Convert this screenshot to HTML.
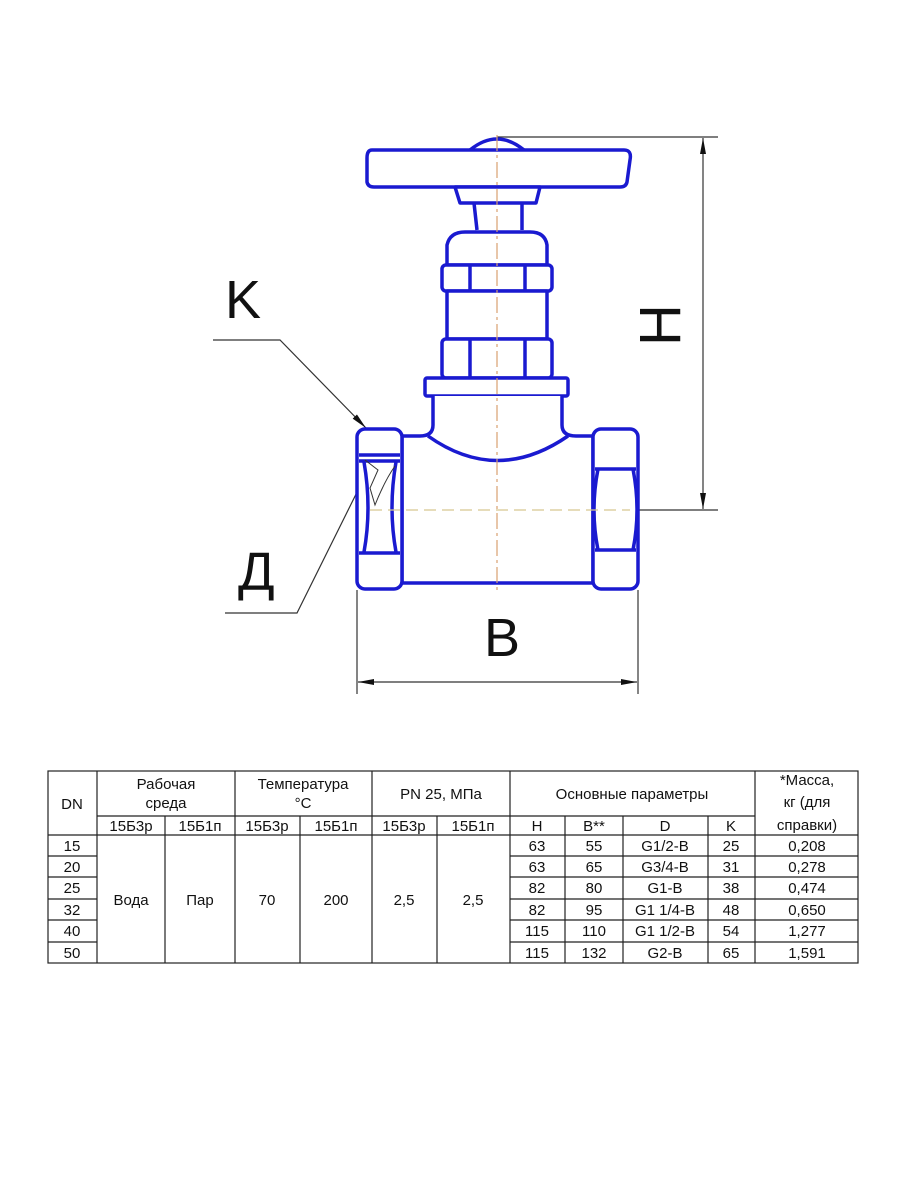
<!DOCTYPE html>
<html><head><meta charset="utf-8"><style>
body{margin:0;background:#fff;width:900px;height:1200px;overflow:hidden}
svg{display:block}
text{font-family:"Liberation Sans","DejaVu Sans",sans-serif}
</style></head><body>
<svg width="900" height="1200" viewBox="0 0 900 1200" xmlns="http://www.w3.org/2000/svg">
<defs>
<marker id="ar" markerWidth="16" markerHeight="8" refX="16" refY="4" orient="auto-start-reverse" markerUnits="userSpaceOnUse"><path d="M0,1 L16,4 L0,7 z" fill="#111"/></marker>
</defs>
<!-- dimension H -->
<g stroke="#333" stroke-width="1.2" fill="none">
<line x1="497" y1="137" x2="718" y2="137"/>
<line x1="638" y1="510" x2="718" y2="510"/>
<line x1="703" y1="138" x2="703" y2="509" marker-start="url(#ar)" marker-end="url(#ar)"/>
<line x1="357" y1="590" x2="357" y2="694"/>
<line x1="638" y1="590" x2="638" y2="694"/>
<line x1="358" y1="682" x2="637" y2="682" marker-start="url(#ar)" marker-end="url(#ar)"/>
<polyline points="213,340 280,340 366,428" marker-end="url(#ar)"/>
<polyline points="225,613 297,613 372,462" marker-end="url(#ar)"/>
</g>
<g fill="#111" font-size="54">
<text x="225" y="318">K</text>
<text x="238" y="590">Д</text>
<text x="484" y="656">B</text>
<text transform="translate(638,325) rotate(-90)" text-anchor="middle" x="0" y="42" font-size="58">H</text>
</g>
<!-- valve -->
<g stroke="#1a1ad0" stroke-width="3.5" fill="#fff" stroke-linejoin="round">
<path d="M470,150 Q497,128 524,150"/>
<path d="M372,150 L624,150 Q632,150 630,160 L627,182 Q626,187 620,187 L374,187 Q368,187 367,182 L367,158 Q367,150 372,150 Z"/>
<path d="M455,187 L540,187 L536,203 L460,203 Z"/>
<path d="M474,203 L477,230 M522,203 L522,230"/>
<path d="M447,265 L447,245 Q450,232 465,232 L530,232 Q545,232 547,245 L547,265 Z"/>
<rect x="442" y="265" width="110" height="26" rx="4"/>
<path d="M470,265 L470,291 M525,265 L525,291"/>
<rect x="447" y="291" width="100" height="48"/>
<rect x="442" y="339" width="110" height="39" rx="4"/>
<path d="M470,339 L470,378 M525,339 L525,378"/>
<rect x="425" y="378" width="143" height="18" rx="2"/>
<path d="M433,396 L433,425 Q433,436 420,436 L402,436 L402,583 L593,583 L593,436 L576,436 Q562,436 562,425 L562,396"/>
<path d="M428,436 Q497,485 568,436" fill="none"/>
<rect x="357" y="429" width="45" height="160" rx="8"/>
<path d="M359,455 L400,455 M359,461 L400,461 M359,553 L400,553" fill="none"/>
<path d="M364,462 Q372,508 364,552 M396,462 Q388,508 396,552" fill="none"/>
<rect x="593" y="429" width="45" height="160" rx="8"/>
<path d="M595,469 L636,469 M595,550 L636,550" fill="none"/>
<path d="M598,469 Q590,510 598,550 M633,469 Q641,510 633,550" fill="none"/>
</g>
<path d="M365,460 L378,470 L370,488 L375,505 Q385,480 395,466" stroke="#333" stroke-width="1" fill="none"/>
<!-- centerlines -->
<line x1="497" y1="135" x2="497" y2="590" stroke="#d9a070" stroke-width="1.2" stroke-dasharray="16,4,3,4"/>
<line x1="370" y1="510" x2="630" y2="510" stroke="#d8c890" stroke-width="1.2" stroke-dasharray="12,6"/>
<!-- table -->
<g stroke="#222" stroke-width="1.2" fill="none">
<rect x="48" y="771" width="810" height="192"/>
<line x1="97" y1="771" x2="97" y2="963"/>
<line x1="165" y1="816" x2="165" y2="963"/>
<line x1="235" y1="771" x2="235" y2="963"/>
<line x1="300" y1="816" x2="300" y2="963"/>
<line x1="372" y1="771" x2="372" y2="963"/>
<line x1="437" y1="816" x2="437" y2="963"/>
<line x1="510" y1="771" x2="510" y2="963"/>
<line x1="565" y1="816" x2="565" y2="963"/>
<line x1="623" y1="816" x2="623" y2="963"/>
<line x1="708" y1="816" x2="708" y2="963"/>
<line x1="755" y1="771" x2="755" y2="963"/>
<line x1="97" y1="816" x2="755" y2="816"/>
<line x1="48" y1="835" x2="858" y2="835"/>
<line x1="48" y1="856" x2="97" y2="856"/><line x1="510" y1="856" x2="858" y2="856"/>
<line x1="48" y1="877" x2="97" y2="877"/><line x1="510" y1="877" x2="858" y2="877"/>
<line x1="48" y1="899" x2="97" y2="899"/><line x1="510" y1="899" x2="858" y2="899"/>
<line x1="48" y1="920" x2="97" y2="920"/><line x1="510" y1="920" x2="858" y2="920"/>
<line x1="48" y1="942" x2="97" y2="942"/><line x1="510" y1="942" x2="858" y2="942"/>
</g>
<g fill="#111" font-size="15" text-anchor="middle">
<text x="72" y="809">DN</text>
<text x="166" y="789">Рабочая</text><text x="166" y="808">среда</text>
<text x="303" y="789">Температура</text><text x="303" y="808">°C</text>
<text x="441" y="799">PN 25, МПа</text>
<text x="632" y="799">Основные параметры</text>
<text x="807" y="785">*Масса,</text><text x="807" y="807">кг (для</text><text x="807" y="830">справки)</text>
<text x="131" y="831">15Б3р</text><text x="200" y="831">15Б1п</text><text x="267" y="831">15Б3р</text><text x="336" y="831">15Б1п</text><text x="404" y="831">15Б3р</text><text x="473" y="831">15Б1п</text>
<text x="537" y="831">H</text><text x="594" y="831">B**</text><text x="665" y="831">D</text><text x="731" y="831">K</text>
<text x="131" y="905">Вода</text><text x="200" y="905">Пар</text><text x="267" y="905">70</text><text x="336" y="905">200</text><text x="404" y="905">2,5</text><text x="473" y="905">2,5</text>
<text x="72" y="851">15</text><text x="537" y="851">63</text><text x="594" y="851">55</text><text x="665" y="851">G1/2-B</text><text x="731" y="851">25</text><text x="807" y="851">0,208</text>
<text x="72" y="872">20</text><text x="537" y="872">63</text><text x="594" y="872">65</text><text x="665" y="872">G3/4-B</text><text x="731" y="872">31</text><text x="807" y="872">0,278</text>
<text x="72" y="893">25</text><text x="537" y="893">82</text><text x="594" y="893">80</text><text x="665" y="893">G1-B</text><text x="731" y="893">38</text><text x="807" y="893">0,474</text>
<text x="72" y="915">32</text><text x="537" y="915">82</text><text x="594" y="915">95</text><text x="665" y="915">G1 1/4-B</text><text x="731" y="915">48</text><text x="807" y="915">0,650</text>
<text x="72" y="936">40</text><text x="537" y="936">115</text><text x="594" y="936">110</text><text x="665" y="936">G1 1/2-B</text><text x="731" y="936">54</text><text x="807" y="936">1,277</text>
<text x="72" y="958">50</text><text x="537" y="958">115</text><text x="594" y="958">132</text><text x="665" y="958">G2-B</text><text x="731" y="958">65</text><text x="807" y="958">1,591</text>
</g>
</svg>
</body></html>
